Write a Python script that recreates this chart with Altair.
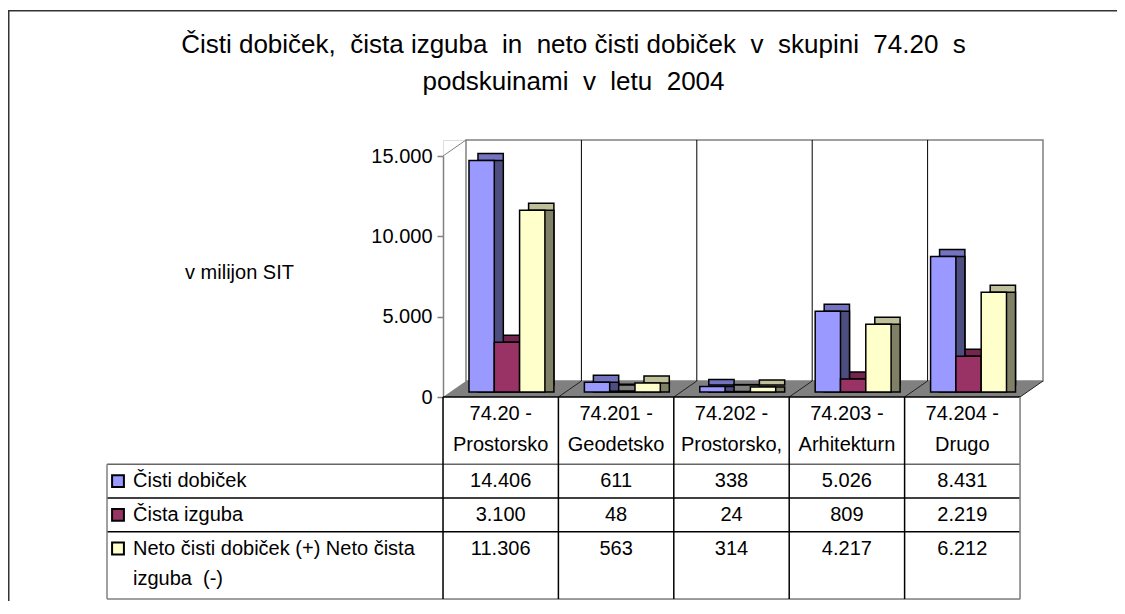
import altair as alt
import pandas as pd

# ---------------- data ----------------
TITLE_LINES = [
    "Čisti dobiček,  čista izguba  in  neto čisti dobiček  v  skupini  74.20  s",
    "podskuinami  v  letu  2004",
]
CAT_CODES = ["74.20 -", "74.201 -", "74.202 -", "74.203 -", "74.204 -"]
CAT_NAMES = ["Prostorsko", "Geodetsko", "Prostorsko,", "Arhitekturn", "Drugo"]
SERIES = ["Čisti dobiček", "Čista izguba", "Neto čisti dobiček (+) Neto čista izguba  (-)"]
SERIES_LABEL_LINES = [
    ["Čisti dobiček"],
    ["Čista izguba"],
    ["Neto čisti dobiček (+) Neto čista", "izguba  (-)"],
]
CISTI_DOBICEK = [14406, 611, 338, 5026, 8431]
CISTA_IZGUBA = [3100, 48, 24, 809, 2219]
NETO = [11306, 563, 314, 4217, 6212]
Y_TICKS = [0, 5000, 10000, 15000]
Y_TITLE = "v milijon SIT"

# ---------------- style / layout ----------------
FONT = "Liberation Sans"
FRONT = ["#9999FF", "#993366", "#FFFFCC"]
TOP = ["#7373BF", "#73264D", "#BFBF99"]
SIDE = ["#4D4D80", "#4D1933", "#808066"]
W, H = 577, 459
PAD = {"left": 435, "top": 132, "right": 97, "bottom": 2}
DEPTH_X, DEPTH_Y = 23, 16
FLOOR_Y = 257
WALL_TOP_Y = 16
TABLE_LEFT = -336
BAR_DX, BAR_DY, BAR_LIFT = 9, 7, 5


def keep_spaces(s):
    # SVG collapses runs of spaces; keep the double spacing visible
    return s.replace("  ", " \u00a0")


CATS = [c + "\n" + n for c, n in zip(CAT_CODES, CAT_NAMES)]
VALUES = [CISTI_DOBICEK, CISTA_IZGUBA, NETO]

rows = []
for si, s in enumerate(SERIES):
    for ci, c in enumerate(CATS):
        rows.append({"cat": c, "series": s, "value": VALUES[si][ci]})
bars_df = pd.DataFrame(rows)

# table row geometry from number of text lines in each series label
line_counts = [len(l) for l in SERIES_LABEL_LINES]
tops = [sum(line_counts[:i]) for i in range(len(line_counts))]
series_df = pd.DataFrame({
    "series": SERIES,
    "label": [keep_spaces("\n".join(l)) for l in SERIES_LABEL_LINES],
    "top": tops,
    "first": [t + 0.5 for t in tops],
})
bars_df = bars_df.merge(series_df[["series", "first"]], on="series")
header_lines = 2
TABLE_BOTTOM = sum(line_counts)
header_df = pd.DataFrame({"cat": CATS, "yc": [-header_lines + 0.5] * len(CATS)})

x_scale = alt.Scale(domain=CATS, paddingInner=0, paddingOuter=0)
y_scale = alt.Scale(domain=[0, 15000], range=[FLOOR_Y, WALL_TOP_Y], nice=False)
t_scale = alt.Scale(domain=[-header_lines, TABLE_BOTTOM], range=[FLOOR_Y, H], nice=False, zero=False)

one = pd.DataFrame({"k": [0]})
band = W / len(CATS)

# outer border (top and left edges; the others fall outside the picture)
border_top = alt.Chart(one).mark_rect(fill="#333333", strokeWidth=0).encode(
    x=alt.value(8 - 443), x2=alt.value(W + PAD["right"] + 20),
    y=alt.value(10 - 140), y2=alt.value(11.5 - 140))
border_left = alt.Chart(one).mark_rect(fill="#333333", strokeWidth=0).encode(
    x=alt.value(8 - 443), x2=alt.value(9.5 - 443),
    y=alt.value(10 - 140), y2=alt.value(H + PAD["bottom"] + 20))

# back wall
wall = alt.Chart(one).mark_rect(fill="white", stroke="#808080", strokeWidth=1.5).encode(
    x=alt.value(DEPTH_X), x2=alt.value(W + DEPTH_X), y=alt.value(0), y2=alt.value(FLOOR_Y - DEPTH_Y))

# floor parallelogram
floor_df = pd.DataFrame({
    "x": [0, DEPTH_X, W, W + DEPTH_X],
    "y": [FLOOR_Y, FLOOR_Y - DEPTH_Y, FLOOR_Y - DEPTH_Y, FLOOR_Y - DEPTH_Y],
    "y2": [FLOOR_Y, FLOOR_Y, FLOOR_Y, FLOOR_Y - DEPTH_Y],
})
floor = alt.Chart(floor_df).mark_area(color="#808080", opacity=1).encode(
    x=alt.X("x:Q", scale=None, axis=None),
    y=alt.Y("y:Q", scale=None, axis=None),
    y2="y2:Q")

# wall grid lines at category boundaries
wall_grid = alt.Chart(pd.DataFrame({"cat": CATS[1:]})).mark_rule(
    color="black", strokeWidth=1, xOffset=DEPTH_X).encode(
    x=alt.X("cat:N", bandPosition=0, scale=x_scale, axis=None),
    y=alt.value(0), y2=alt.value(FLOOR_Y - DEPTH_Y))

# slanted decoration lines
seg = [{"x1": 0, "y1": WALL_TOP_Y, "x2": DEPTH_X, "y2": 0, "c": "#808080"}]
for i in range(1, len(CATS) + 1):
    seg.append({"x1": i * band, "y1": FLOOR_Y, "x2": i * band + DEPTH_X,
                "y2": FLOOR_Y - DEPTH_Y, "c": "#222222"})
seg_df = pd.DataFrame(seg)
slants = alt.Chart(seg_df).mark_rule(strokeWidth=1).encode(
    x=alt.X("x1:Q", scale=None, axis=None), y=alt.Y("y1:Q", scale=None, axis=None),
    x2="x2:Q", y2="y2:Q", color=alt.Color("c:N", scale=None))


def bar_layer(colors, align, lift, axis):
    return alt.Chart(bars_df).mark_bar(
        stroke="black", strokeWidth=1.5, yOffset=-lift, y2Offset=-BAR_LIFT).encode(
        x=alt.X("cat:N", scale=x_scale, axis=None, sort=CATS),
        xOffset=alt.XOffset("series:N", sort=SERIES, scale=alt.Scale(
            domain=SERIES, paddingInner=0, paddingOuter=0.78, align=align)),
        y=alt.Y("value:Q", scale=y_scale, axis=axis),
        color=alt.Color("series:N", scale=alt.Scale(domain=SERIES, range=colors), legend=None),
    )


y_axis = alt.Axis(values=Y_TICKS, format=",d", labelFontSize=20, labelFont=FONT,
                  labelColor="black", domainColor="#808080", domainWidth=1.5,
                  tickColor="#808080", tickWidth=1.5, tickSize=6, labelPadding=5,
                  grid=False, title=Y_TITLE, titleFont=FONT, titleFontSize=20,
                  titleFontWeight="normal", titleAngle=0, titleAlign="center",
                  titleBaseline="middle", titleX=-204, titleY=132, titleColor="black")

bars_top = bar_layer(TOP, 0.886, BAR_LIFT + BAR_DY, None)
bars_side = bar_layer(SIDE, 0.886, BAR_LIFT, None)
bars_front = bar_layer(FRONT, 0.658, BAR_LIFT, y_axis)

# table grid
hlines_df = pd.DataFrame({
    "yb": [-header_lines, 0] + tops[1:] + [TABLE_BOTTOM],
    "left": [0, TABLE_LEFT] + [TABLE_LEFT] * (len(tops) - 1) + [TABLE_LEFT],
    "c": ["black", "#666666"] + ["black"] * (len(tops) - 1) + ["#808080"],
})
hlines = alt.Chart(hlines_df).mark_rule(strokeWidth=1.5).encode(
    y=alt.Y("yb:Q", scale=t_scale, axis=None),
    x=alt.X("left:Q", scale=None, axis=None), x2=alt.value(W),
    color=alt.Color("c:N", scale=None))
vlines = alt.Chart(pd.DataFrame({"cat": CATS})).mark_rule(color="black", strokeWidth=1.5).encode(
    x=alt.X("cat:N", bandPosition=0, scale=x_scale, axis=None),
    y=alt.Y(datum=-header_lines, type="quantitative", scale=t_scale, axis=None),
    y2=alt.Y2(datum=TABLE_BOTTOM))
edge_df = pd.DataFrame({"xe": [TABLE_LEFT, W], "y0": [0, -header_lines], "y1": [TABLE_BOTTOM, TABLE_BOTTOM]})
edges = alt.Chart(edge_df).mark_rule(color="#808080", strokeWidth=1.5).encode(
    x=alt.X("xe:Q", scale=None, axis=None),
    y=alt.Y("y0:Q", scale=t_scale, axis=None), y2="y1:Q")

header = alt.Chart(header_df).mark_text(
    font=FONT, fontSize=20, lineBreak="\n", lineHeight=31, baseline="middle", color="black").encode(
    x=alt.X("cat:N", scale=x_scale, axis=None),
    y=alt.Y("yc:Q", scale=t_scale, axis=None),
    text="cat:N")

cells = alt.Chart(bars_df).mark_text(font=FONT, fontSize=20, baseline="middle", color="black").encode(
    x=alt.X("cat:N", scale=x_scale, axis=None),
    y=alt.Y("first:Q", scale=t_scale, axis=None),
    text=alt.Text("value:Q", format=",d"))

labels = alt.Chart(series_df).mark_text(
    font=FONT, fontSize=20, align="left", baseline="middle", lineBreak="\n",
    lineHeight=30, color="black").encode(
    x=alt.value(TABLE_LEFT + 26),
    y=alt.Y("first:Q", scale=t_scale, axis=None),
    text="label:N")

keys = alt.Chart(series_df).mark_point(
    shape="square", filled=True, size=140, stroke="black", strokeWidth=2, opacity=1).encode(
    x=alt.value(TABLE_LEFT + 11),
    y=alt.Y("first:Q", scale=t_scale, axis=None),
    color=alt.Color("series:N", scale=alt.Scale(domain=SERIES, range=FRONT), legend=None))

title = alt.Chart(pd.DataFrame({"t": [keep_spaces("\n".join(TITLE_LINES))]})).mark_text(
    font=FONT, fontSize=26, lineBreak="\n", lineHeight=37, align="center",
    baseline="alphabetic", color="black").encode(
    x=alt.value(573.5 - 443), y=alt.value(53 - 140), text="t:N")

chart = alt.layer(
    border_top, border_left, wall, floor, wall_grid, slants, bars_top, bars_side, bars_front,
    hlines, vlines, edges, header, cells, labels, keys, title,
).resolve_scale(
    y="independent", xOffset="independent", color="independent"
).properties(
    width=W, height=H, autosize=alt.AutoSizeParams(type="none"), padding=PAD,
).configure_view(strokeOpacity=0).configure(
    locale={"number": {"decimal": ",", "thousands": ".", "grouping": [3], "currency": ["", ""]}}
)

chart.save("out.html", embed_options={"renderer": "svg", "actions": False})
